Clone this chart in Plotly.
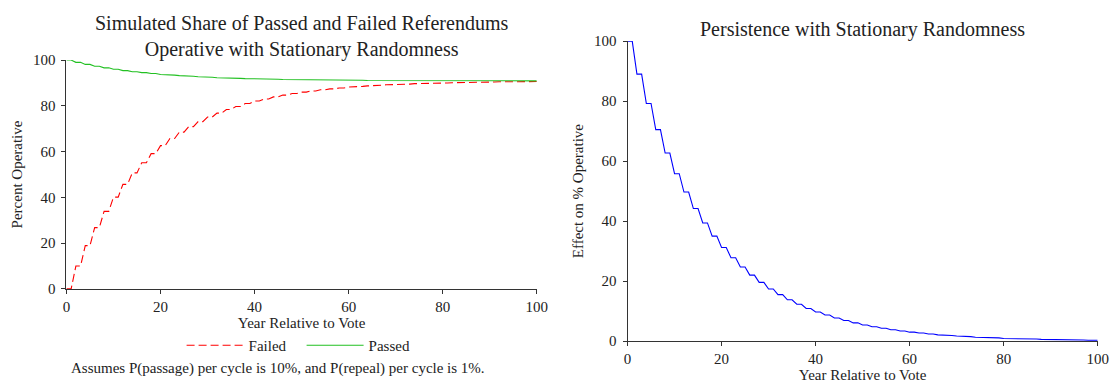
import plotly.graph_objects as go

# ---------------- data ----------------
years = list(range(0, 101))

failed_pct = [
    0.0, 0.0, 10.0, 10.0, 18.9, 18.9, 26.8, 26.8, 33.9, 33.9,
    40.1, 40.1, 45.7, 45.7, 50.7, 50.7, 55.1, 55.1, 59.1, 59.1,
    62.6, 62.6, 65.7, 65.7, 68.5, 68.5, 70.9, 70.9, 73.1, 73.1,
    75.1, 75.1, 76.8, 76.8, 78.4, 78.4, 79.7, 79.7, 81.0, 81.0,
    82.1, 82.1, 83.0, 83.0, 83.9, 83.9, 84.7, 84.7, 85.4, 85.4,
    86.0, 86.0, 86.5, 86.5, 87.0, 87.0, 87.4, 87.4, 87.8, 87.8,
    88.2, 88.2, 88.5, 88.5, 88.7, 88.7, 89.0, 89.0, 89.2, 89.2,
    89.4, 89.4, 89.5, 89.5, 89.7, 89.7, 89.8, 89.8, 89.9, 89.9,
    90.0, 90.0, 90.1, 90.1, 90.2, 90.2, 90.3, 90.3, 90.4, 90.4,
    90.4, 90.4, 90.5, 90.5, 90.5, 90.5, 90.6, 90.6, 90.6, 90.6,
    90.6,
]

passed_pct = [
    100.0, 100.0, 99.0, 99.0, 98.1, 98.1, 97.3, 97.3, 96.6, 96.6,
    96.0, 96.0, 95.4, 95.4, 94.9, 94.9, 94.5, 94.5, 94.1, 94.1,
    93.7, 93.7, 93.4, 93.4, 93.2, 93.2, 92.9, 92.9, 92.7, 92.7,
    92.5, 92.5, 92.3, 92.3, 92.2, 92.2, 92.0, 92.0, 91.9, 91.9,
    91.8, 91.8, 91.7, 91.7, 91.6, 91.6, 91.5, 91.5, 91.5, 91.5,
    91.4, 91.4, 91.3, 91.3, 91.3, 91.3, 91.3, 91.3, 91.2, 91.2,
    91.2, 91.2, 91.2, 91.2, 91.1, 91.1, 91.1, 91.1, 91.1, 91.1,
    91.1, 91.1, 91.0, 91.0, 91.0, 91.0, 91.0, 91.0, 91.0, 91.0,
    91.0, 91.0, 91.0, 91.0, 91.0, 91.0, 91.0, 91.0, 91.0, 91.0,
    91.0, 91.0, 91.0, 91.0, 91.0, 91.0, 91.0, 91.0, 91.0, 91.0,
    90.9,
]

persistence_pct = [
    100.0, 100.0, 89.0, 89.0, 79.2, 79.2, 70.5, 70.5, 62.7, 62.7,
    55.8, 55.8, 49.7, 49.7, 44.2, 44.2, 39.4, 39.4, 35.0, 35.0,
    31.2, 31.2, 27.8, 27.8, 24.7, 24.7, 22.0, 22.0, 19.6, 19.6,
    17.4, 17.4, 15.5, 15.5, 13.8, 13.8, 12.3, 12.3, 10.9, 10.9,
    9.7, 9.7, 8.7, 8.7, 7.7, 7.7, 6.9, 6.9, 6.1, 6.1,
    5.4, 5.4, 4.8, 4.8, 4.3, 4.3, 3.8, 3.8, 3.4, 3.4,
    3.0, 3.0, 2.7, 2.7, 2.4, 2.4, 2.1, 2.1, 1.9, 1.9,
    1.7, 1.7, 1.5, 1.5, 1.3, 1.3, 1.2, 1.2, 1.1, 1.1,
    0.9, 0.9, 0.8, 0.8, 0.7, 0.7, 0.7, 0.7, 0.6, 0.6,
    0.5, 0.5, 0.5, 0.5, 0.4, 0.4, 0.4, 0.4, 0.3, 0.3,
    0.3,
]

tick_vals = [0, 20, 40, 60, 80, 100]
tick_text = ["0", "20", "40", "60", "80", "100"]

left_title = "Simulated Share of Passed and Failed Referendums<br>Operative with Stationary Randomness"
right_title = "Persistence with Stationary Randomness"
x_title = "Year Relative to Vote"
left_y_title = "Percent Operative"
right_y_title = "Effect on % Operative"
note_text = "Assumes P(passage) per cycle is 10%, and P(repeal) per cycle is 1%."

# ---------------- figure ----------------
W, H = 1120, 388
FONT = "Liberation Serif"
TXT = "#222222"
AX = "#333333"


def px_x(p):
    return p / W


def px_y(p):
    return 1 - p / H


fig = go.Figure()

fig.add_trace(go.Scatter(x=years, y=failed_pct, mode="lines", name="Failed",
                         line=dict(color="#ff0000", width=1.1, dash="8px,4px"),
                         xaxis="x", yaxis="y"))
fig.add_trace(go.Scatter(x=years, y=passed_pct, mode="lines", name="Passed",
                         line=dict(color="#22c022", width=1.1),
                         xaxis="x", yaxis="y"))
fig.add_trace(go.Scatter(x=years, y=persistence_pct, mode="lines", name="Persistence",
                         line=dict(color="#0000ff", width=1.1),
                         showlegend=False, xaxis="x2", yaxis="y2"))

axis_common = dict(
    range=[0, 100], tickmode="array", tickvals=tick_vals, ticktext=tick_text,
    ticks="outside", ticklen=4, tickwidth=1, tickcolor=AX,
    showline=True, linecolor=AX, linewidth=1,
    showgrid=False, zeroline=False,
    tickfont=dict(family=FONT, size=15, color=TXT),
    fixedrange=True,
)
title_font = dict(family=FONT, size=15, color=TXT)

fig.update_layout(
    width=W, height=H,
    margin=dict(l=0, r=0, t=0, b=0),
    paper_bgcolor="white", plot_bgcolor="white",
    font=dict(family=FONT, size=15, color=TXT),
    xaxis=dict(domain=[px_x(63.3), px_x(540)], anchor="y",
               title=dict(text=x_title, font=title_font, standoff=2),
               **axis_common),
    yaxis=dict(domain=[px_y(293), px_y(54.3)], anchor="x",
               title=dict(text=left_y_title, font=title_font, standoff=6),
               ticklabelstandoff=3,
               **axis_common),
    xaxis2=dict(domain=[px_x(632), px_x(1108.5)], anchor="y2",
                title=dict(text=x_title, font=title_font, standoff=2),
                **axis_common),
    yaxis2=dict(domain=[px_y(347.5), px_y(34.5)], anchor="x2",
                title=dict(text=right_y_title, font=title_font, standoff=6),
                ticklabelstandoff=3,
                **axis_common),
    showlegend=True,
    legend=dict(orientation="h", x=px_x(180), xanchor="left",
                y=px_y(352), yanchor="middle",
                font=dict(family=FONT, size=15, color=TXT),
                bgcolor="rgba(0,0,0,0)", itemwidth=57,
                entrywidth=48, entrywidthmode="pixels"),
)

annotations = [
    dict(text=left_title, x=px_x(301.5), y=px_y(30), xref="paper", yref="paper",
         xanchor="center", yanchor="middle", showarrow=False,
         font=dict(family=FONT, size=20, color=TXT)),
    dict(text=right_title, x=px_x(870), y=px_y(22), xref="paper", yref="paper",
         xanchor="center", yanchor="middle", showarrow=False,
         font=dict(family=FONT, size=20, color=TXT)),
    dict(text=note_text, x=px_x(66), y=px_y(376), xref="paper", yref="paper",
         xanchor="left", yanchor="middle", showarrow=False,
         font=dict(family=FONT, size=15, color=TXT)),
]
fig.update_layout(annotations=annotations)

fig.write_html("out.html",
               config={"displayModeBar": False, "staticPlot": False},
               post_script="document.body.style.margin='0';document.body.style.overflow='hidden';")
